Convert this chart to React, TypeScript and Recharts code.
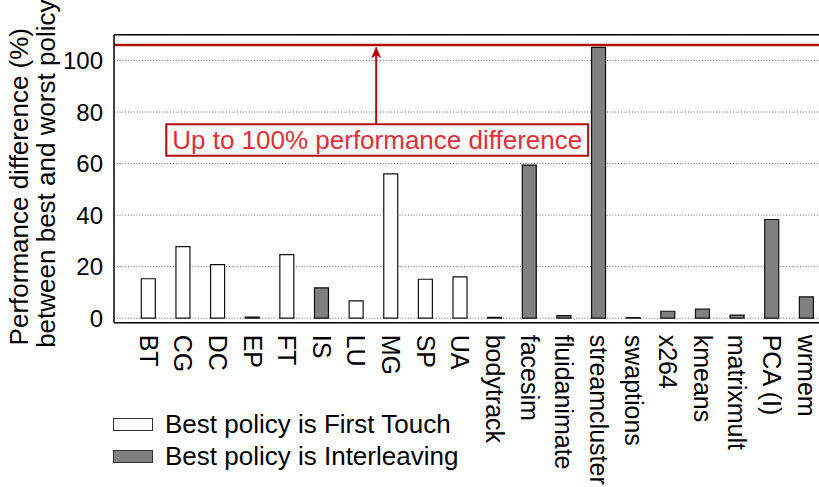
import React from 'react';
import {
  BarChart,
  Bar,
  XAxis,
  YAxis,
  CartesianGrid,
  Legend,
  ReferenceLine,
  ReferenceArea,
} from 'recharts';

// benchmarks, NAS first then PARSEC / others
const benchmarks = [
  'BT', 'CG', 'DC', 'EP', 'FT', 'IS', 'LU', 'MG', 'SP', 'UA',
  'bodytrack', 'facesim', 'fluidanimate', 'streamcluster', 'swaptions',
  'x264', 'kmeans', 'matrixmult', 'PCA (I)', 'wrmem',
];

// % difference between best and worst policy, split by which policy wins
const firstTouchDiff = [
  15.3, 27.8, 20.8, 0.4, 24.7, 0, 6.7, 56.0, 15.1, 16.0,
  0.3, 0, 0, 0, 0.2, 0, 0, 0, 0, 0,
];
const interleaveDiff = [
  0, 0, 0, 0, 0, 11.8, 0, 0, 0, 0,
  0, 59.4, 1.0, 105.1, 0, 2.7, 3.5, 1.2, 38.3, 8.3,
];

const yTicks = [0, 20, 40, 60, 80, 100];
const maxDiffLine = 106;
const noteText = 'Up to 100% performance difference';

const FONT = '"Liberation Sans", Arial, Helvetica, sans-serif';
const RED_LINE = '#b30c0c';
const RED_TEXT = '#dd2f3b';

const data = benchmarks.map((name, i) => ({
  idx: i,
  name,
  firstTouch: firstTouchDiff[i],
  interleave: interleaveDiff[i],
}));

const XTick = (props: any) => {
  const { x, y, payload } = props;
  return (
    <text
      transform={`translate(${x},${y}) rotate(90)`}
      textAnchor="start"
      dominantBaseline="central"
      fontSize={25}
      fontFamily={FONT}
      fill="#000"
    >
      {benchmarks[payload.value]}
    </text>
  );
};

const YTitle = (props: any) => {
  const { viewBox } = props;
  const cy = viewBox.y + viewBox.height / 2;
  const c1 = cy + 8;
  const c2 = cy - 5;
  return (
    <g fontSize={26} fontFamily={FONT} fill="#000">
      <text x={28} y={c1} textAnchor="middle" transform={`rotate(-90, 28, ${c1})`}>
        Performance difference (%)
      </text>
      <text x={55} y={c2} textAnchor="middle" transform={`rotate(-90, 55, ${c2})`}>
        between best and worst policy
      </text>
    </g>
  );
};

// vertical arrow from the note box up to the max line
const Arrow = (props: any) => {
  const { x1, y1, x2, y2 } = props;
  const top = Math.min(y1, y2);
  const bottom = Math.max(y1, y2);
  return (
    <g>
      <line x1={x1} y1={bottom} x2={x2} y2={top + 8} stroke={RED_LINE} strokeWidth={2} />
      <polygon
        points={`${x1},${top} ${x1 - 5},${top + 12} ${x1},${top + 9} ${x1 + 5},${top + 12}`}
        fill={RED_LINE}
      />
    </g>
  );
};

const LegendBox = (props: any) => {
  const { payload } = props;
  return (
    <div style={{ fontFamily: FONT, fontSize: 26, color: '#000' }}>
      {(payload || []).map((entry: any) => (
        <div key={entry.value} style={{ display: 'flex', alignItems: 'center', height: 32 }}>
          <span
            style={{
              display: 'inline-block',
              width: 38,
              height: 11,
              border: '1.5px solid #333',
              background: entry.color,
              marginRight: 12,
            }}
          />
          <span>{entry.value}</span>
        </div>
      ))}
    </div>
  );
};

export default function App() {
  return (
    <div
      style={{
        position: 'fixed',
        left: 0,
        top: 0,
        width: 819,
        height: 487,
        overflow: 'hidden',
        background: '#fff',
      }}
    >
      <BarChart
        width={850}
        height={487}
        data={data}
        margin={{ top: 34.7, right: 8.7, bottom: 0, left: 0 }}
      >
        <CartesianGrid
          horizontal
          vertical={false}
          stroke="#666"
          strokeDasharray="1 1.8"
        />
        <XAxis
          type="number"
          dataKey="idx"
          domain={[-1, 20]}
          ticks={benchmarks.map((_, i) => i)}
          interval={0}
          height={164.3}
          tickLine={false}
          tickSize={0}
          tickMargin={12}
          tick={<XTick />}
          axisLine={{ stroke: '#000', strokeWidth: 1.5 }}
        />
        <YAxis
          type="number"
          domain={[-1.75, 110]}
          ticks={yTicks}
          allowDataOverflow
          width={114}
          tickLine={false}
          tickSize={0}
          tickMargin={11}
          tick={{ fontSize: 24, fontFamily: FONT, fill: '#000' }}
          axisLine={{ stroke: '#000', strokeWidth: 1.5 }}
          label={<YTitle />}
        />
        <ReferenceLine y={110} stroke="#000" strokeWidth={1.5} />
        <Bar
          dataKey="firstTouch"
          name="Best policy is First Touch"
          stackId="diff"
          barSize={14}
          fill="#ffffff"
          stroke="#111"
          strokeWidth={1.2}
          isAnimationActive={false}
        />
        <Bar
          dataKey="interleave"
          name="Best policy is Interleaving"
          stackId="diff"
          barSize={14}
          fill="#808080"
          stroke="#111"
          strokeWidth={1.2}
          isAnimationActive={false}
        />
        <ReferenceLine y={maxDiffLine} stroke={RED_LINE} strokeWidth={2.5} />
        <ReferenceLine
          segment={[
            { x: 6.57, y: 75.3 },
            { x: 6.57, y: 105.5 },
          ]}
          shape={<Arrow />}
        />
        <ReferenceArea
          x1={0.51}
          x2={12.69}
          y1={63.0}
          y2={75.3}
          fill="#fff"
          fillOpacity={1}
          stroke={RED_LINE}
          strokeWidth={2}
          label={{
            value: noteText,
            position: 'center',
            fill: RED_TEXT,
            fontSize: 26,
            fontFamily: FONT,
          }}
        />
        {/* vertical + centered so the legend reserves no plot space */}
        <Legend
          layout="vertical"
          align="center"
          verticalAlign="middle"
          content={<LegendBox />}
          wrapperStyle={{ position: 'absolute', left: 113, top: 408, width: 400 }}
        />
      </BarChart>
    </div>
  );
}
